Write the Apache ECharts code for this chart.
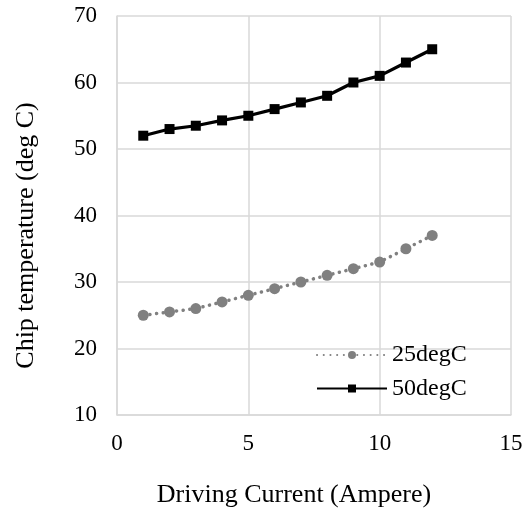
<!DOCTYPE html>
<html>
<head>
<meta charset="utf-8">
<script src="https://cdn.jsdelivr.net/npm/echarts@6/dist/echarts.min.js"></script>
<style>html,body{margin:0;padding:0;background:#fff}#c{width:529px;height:514px}</style>
</head>
<body>
<div id="c"></div>
<script>
const currents = [1,2,3,4,5,6,7,8,9,10,11,12];
const temp25 = [25,25.5,26,27,28,29,30,31,32,33,35,37];
const temp50 = [52,53,53.5,54.3,55,56,57,58,60,61,63,65];
const seriesNames = ['25degC','50degC'];
const xTitle = 'Driving Current (Ampere)';
const yTitle = 'Chip temperature (deg C)';

const font = 'Liberation Serif, Times New Roman, serif';
const chart = echarts.init(document.getElementById('c'));
chart.setOption({
  animation:false,
  backgroundColor:'#fff',
  grid:{left:117,right:18,top:16,bottom:99,containLabel:false},
  xAxis:{type:'value',min:0,max:15,interval:5,
    name:xTitle,nameLocation:'middle',nameGap:67,
    nameTextStyle:{fontFamily:font,fontSize:26,color:'#000',padding:[0,40,0,0]},
    axisLine:{show:true,lineStyle:{color:'#d9d9d9',width:1.5}},
    axisTick:{show:false},
    axisLabel:{fontFamily:font,fontSize:23,color:'#000',margin:17},
    splitLine:{show:true,lineStyle:{color:'#d9d9d9',width:1.5}}},
  yAxis:{type:'value',min:10,max:70,interval:10,
    name:yTitle,nameLocation:'middle',nameGap:78,
    nameTextStyle:{fontFamily:font,fontSize:26,color:'#000',padding:[0,40,0,0]},
    axisLine:{show:true,lineStyle:{color:'#d9d9d9',width:1.5}},
    axisTick:{show:false},
    axisLabel:{fontFamily:font,fontSize:23,color:'#000',margin:20},
    splitLine:{show:true,lineStyle:{color:'#d9d9d9',width:1.5}}},
  legend:{orient:'vertical',left:311,top:338,itemWidth:70,itemHeight:10,itemGap:9.5,
    textStyle:{fontFamily:font,fontSize:24,color:'#000',lineHeight:24},
    data:seriesNames},
  series:[
    {name:seriesNames[0],type:'line',data:currents.map((x,i)=>[x,temp25[i]]),
     symbol:'circle',symbolSize:11,
     itemStyle:{color:'#808080'},
     lineStyle:{color:'#808080',width:3.5,type:[0.1,6.6],cap:'round'}},
    {name:seriesNames[1],type:'line',data:currents.map((x,i)=>[x,temp50[i]]),
     symbol:'rect',symbolSize:10,
     itemStyle:{color:'#000'},
     lineStyle:{color:'#000',width:3.2}}
  ]
});
</script>
</body>
</html>
